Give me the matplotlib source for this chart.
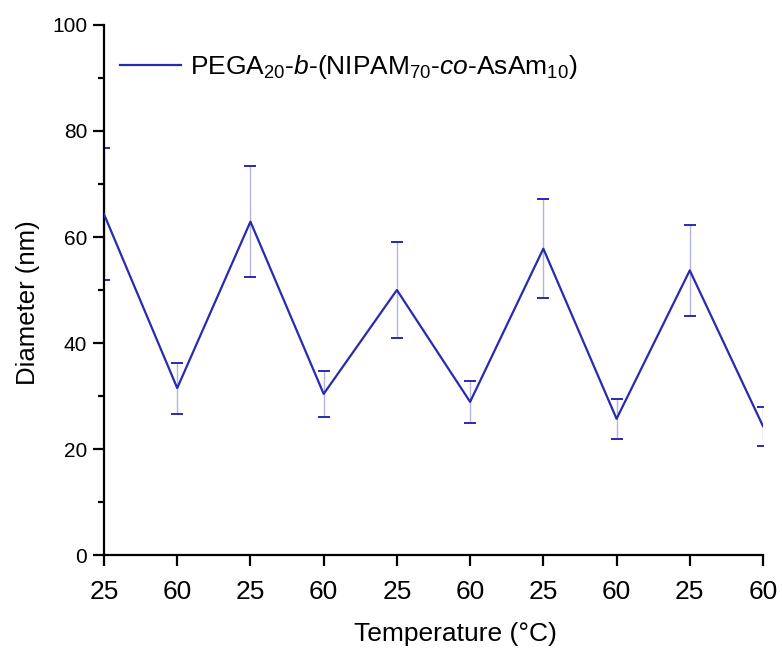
import numpy as np
import matplotlib
matplotlib.use('Agg')
import matplotlib.pyplot as plt
from matplotlib.ticker import MultipleLocator

plt.rcParams['font.family'] = ['Liberation Sans', 'DejaVu Sans']
plt.rcParams['mathtext.fontset'] = 'custom'
plt.rcParams['mathtext.rm'] = 'Liberation Sans'
plt.rcParams['mathtext.it'] = 'Liberation Sans:italic'

# data
temps = ['25', '60', '25', '60', '25', '60', '25', '60', '25', '60']
diameter = [64.3, 31.5, 62.9, 30.4, 50.0, 28.9, 57.8, 25.7, 53.7, 24.3]
err = [12.4, 4.8, 10.5, 4.3, 9.0, 4.0, 9.4, 3.8, 8.6, 3.7]
label = r'PEGA$_{20}$-$\it{b}$-(NIPAM$_{70}$-$\it{co}$-AsAm$_{10}$)'

x = np.arange(len(temps))

fig = plt.figure(figsize=(7.82, 6.49), dpi=100)
ax = fig.add_axes([0.133, 0.1448, 0.8427, 0.8167])

line_col = '#2a2ab0'
ax.plot(x, diameter, color=line_col, lw=1.6, label=label, zorder=3)
eb = ax.errorbar(x, diameter, yerr=err, fmt='none', ecolor='#b4b4e4',
                 elinewidth=1.0, capsize=4, capthick=1.4, zorder=2)
for cap in eb[1]:
    cap.set_markeredgecolor(line_col)

ax.set_xlim(0, 9)
ax.set_ylim(0, 100)
ax.set_xticks(x)
ax.set_xticklabels(temps)
ax.yaxis.set_major_locator(MultipleLocator(20))
ax.yaxis.set_minor_locator(MultipleLocator(10))

for s in ['top', 'right']:
    ax.spines[s].set_visible(False)
for s in ['left', 'bottom']:
    ax.spines[s].set_linewidth(1.6)
ax.tick_params(which='major', direction='out', length=8, width=1.6, pad=4)
ax.tick_params(which='minor', direction='out', length=4, width=1.6)
ax.tick_params(axis='y', labelsize=15)
ax.tick_params(axis='x', labelsize=19, pad=10)

ax.set_xlabel('Temperature (°C)', fontsize=19, labelpad=13)
ax.set_ylabel('Diameter (nm)', fontsize=18.5, labelpad=9)
ax.xaxis.label.set_x(0.533)
ax.yaxis.label.set_y(0.477)

ax.legend(loc='center left', bbox_to_anchor=(16 / 659, (555 - 67) / 530),
          frameon=False, fontsize=19, handlelength=2.3, handletextpad=0.35,
          borderpad=0, borderaxespad=0)

fig.savefig('out.png', dpi=100)
